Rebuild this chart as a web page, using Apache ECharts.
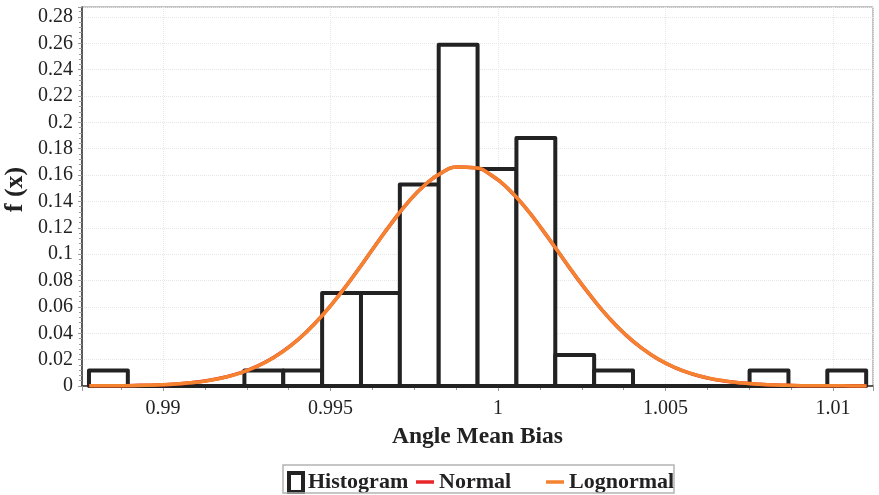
<!DOCTYPE html>
<html>
<head>
<meta charset="utf-8">
<script src="https://cdn.jsdelivr.net/npm/echarts@6/dist/echarts.min.js"></script>
<style>html,body{margin:0;padding:0;background:#fff}#c{width:879px;height:495px}</style>
</head>
<body>
<div id="c"></div>
<script>
// ---- data ----
var binEdges = [0.98779, 0.98895, 0.99011, 0.99127, 0.99243, 0.99359, 0.99475, 0.99591, 0.99707, 0.99823, 0.99939,
                1.00055, 1.00171, 1.00287, 1.00403, 1.00519, 1.00635, 1.00751, 1.00867, 1.00983, 1.01099];
var histValues = [0.0118, 0, 0, 0, 0.0118, 0.0118, 0.0706, 0.0706, 0.1529, 0.2588,
                  0.1647, 0.1882, 0.0235, 0.0118, 0, 0, 0, 0.0118, 0, 0.0118];
var curveX = [0.9878, 0.9883, 0.9888, 0.9893, 0.9898, 0.9903, 0.9908, 0.9913, 0.9918, 0.9923,
              0.9928, 0.9933, 0.9938, 0.9943, 0.9948, 0.9953, 0.9958, 0.9963, 0.9968, 0.9973,
              0.9978, 0.9983, 0.9988, 0.9993, 0.9998, 1.0003, 1.0008, 1.0013, 1.0018, 1.0023,
              1.0028, 1.0033, 1.0038, 1.0043, 1.0048, 1.0053, 1.0058, 1.0063, 1.0068, 1.0073,
              1.0078, 1.0083, 1.0088, 1.0093, 1.0098, 1.0103, 1.0108, 1.0110];
var normalY = [0.0001, 0.0001, 0.0002, 0.0005, 0.0008, 0.0014, 0.0024, 0.0040, 0.0064, 0.0099,
               0.0149, 0.0216, 0.0304, 0.0415, 0.0549, 0.0704, 0.0874, 0.1053, 0.1228, 0.1389,
               0.1521, 0.1615, 0.1661, 0.1656, 0.1599, 0.1497, 0.1358, 0.1194, 0.1017, 0.0839,
               0.0672, 0.0520, 0.0391, 0.0285, 0.0201, 0.0137, 0.0091, 0.0058, 0.0036, 0.0022,
               0.0013, 0.0007, 0.0004, 0.0002, 0.0001, 0.0001, 0.0000, 0.0000];
var lognormalY = [0.0001, 0.0001, 0.0002, 0.0004, 0.0008, 0.0014, 0.0024, 0.0039, 0.0063, 0.0098,
                  0.0148, 0.0215, 0.0303, 0.0414, 0.0548, 0.0703, 0.0873, 0.1052, 0.1228, 0.1389,
                  0.1521, 0.1615, 0.1661, 0.1656, 0.1600, 0.1498, 0.1359, 0.1195, 0.1018, 0.0840,
                  0.0673, 0.0521, 0.0392, 0.0286, 0.0202, 0.0138, 0.0092, 0.0059, 0.0037, 0.0022,
                  0.0013, 0.0007, 0.0004, 0.0002, 0.0001, 0.0001, 0.0000, 0.0000];
var legendNames = ['Histogram', 'Normal', 'Lognormal'];
var xAxisTitle = 'Angle Mean Bias';
var yAxisTitle = 'f (x)';

// ---- build ----
var FONT = '"Liberation Serif", "DejaVu Serif", serif';
var histData = histValues.map(function (v, i) { return [binEdges[i], binEdges[i + 1], v]; });
var normalData = curveX.map(function (x, i) { return [x, normalY[i]]; });
var lognormalData = curveX.map(function (x, i) { return [x, lognormalY[i]]; });

var legendText = { fontFamily: FONT, fontWeight: 'bold', fontSize: 22, color: '#222' };

var chart = echarts.init(document.getElementById('c'), null, { renderer: 'canvas' });
chart.setOption({
  animation: false,
  backgroundColor: '#fff',
  grid: { left: 82, right: 6, top: 7, bottom: 109, show: true, borderColor: '#888', borderWidth: 1,
          containLabel: false, outerBoundsMode: 'none' },
  legend: [
    { data: [{ name: legendNames[0], icon: 'rect', itemStyle: { color: '#fff', borderColor: '#222', borderWidth: 4 } }],
      left: 287, top: 471, itemWidth: 14, itemHeight: 19, itemGap: 0, textStyle: legendText, padding: 0 },
    { data: [{ name: legendNames[1], icon: 'rect' }],
      left: 416, top: 471, itemWidth: 18, itemHeight: 3.5, textStyle: legendText, padding: 0 },
    { data: [{ name: legendNames[2], icon: 'rect' }],
      left: 546, top: 471, itemWidth: 18, itemHeight: 3.5, textStyle: legendText, padding: 0 }
  ],
  graphic: [
    { type: 'rect', shape: { x: 283, y: 465, width: 391, height: 28 }, style: { fill: 'transparent', stroke: '#b4b4b4', lineWidth: 1.5 }, silent: true, z: 100 }
  ],
  xAxis: {
    type: 'value',
    min: 0.987582, max: 1.011194,
    splitNumber: 5,
    name: xAxisTitle, nameLocation: 'middle', nameGap: 39,
    nameTextStyle: { fontFamily: FONT, fontWeight: 'bold', fontSize: 23.5, color: '#222' },
    axisLine: { show: true, onZero: false, lineStyle: { color: '#333', width: 1.5 } },
    axisTick: { show: true, length: 5, lineStyle: { color: '#999' } },
    minorTick: { show: true, splitNumber: 4, length: 4, lineStyle: { color: '#999' } },
    axisLabel: { fontFamily: FONT, fontSize: 20, color: '#222', margin: 13, showMinLabel: false, showMaxLabel: false },
    splitLine: { show: true, lineStyle: { color: '#e6e6e6', type: 'dotted', width: 1 } }
  },
  yAxis: {
    type: 'value',
    min: 0, max: 0.2875, interval: 0.02,
    name: yAxisTitle, nameLocation: 'middle', nameGap: 54, nameRotate: 90, nameMoveOverlap: false,
    nameTextStyle: { fontFamily: FONT, fontWeight: 'bold', fontSize: 26, color: '#222', padding: [0, 0, 0, 14] },
    axisLine: { show: true, lineStyle: { color: '#333', width: 1.5 } },
    axisTick: { show: true, length: 4, lineStyle: { color: '#999' } },
    minorTick: { show: true, splitNumber: 5, length: 3, lineStyle: { color: '#999' } },
    axisLabel: { fontFamily: FONT, fontSize: 20, color: '#222', margin: 9, showMaxLabel: false },
    splitLine: { show: true, lineStyle: { color: '#e6e6e6', type: 'dotted', width: 1 } }
  },
  series: [
    {
      name: legendNames[0], type: 'custom',
      itemStyle: { color: '#fff', borderColor: '#222', borderWidth: 4 },
      renderItem: function (params, api) {
        var p0 = api.coord([api.value(0), api.value(2)]);
        var p1 = api.coord([api.value(1), 0]);
        return {
          type: 'rect',
          shape: { x: p0[0], y: p0[1], width: p1[0] - p0[0], height: p1[1] - p0[1] },
          style: { fill: '#fff', stroke: '#222', lineWidth: 4, lineJoin: 'round' }
        };
      },
      encode: { x: [0, 1], y: 2 },
      data: histData, z: 2
    },
    {
      name: legendNames[1], type: 'line', data: normalData, showSymbol: false, symbol: 'none',
      smooth: true, lineStyle: { color: '#e8262a', width: 3.5 }, itemStyle: { color: '#e8262a' }, z: 3
    },
    {
      name: legendNames[2], type: 'line', data: lognormalData, showSymbol: false, symbol: 'none',
      smooth: true, lineStyle: { color: '#f5822e', width: 3.5 }, itemStyle: { color: '#f5822e' }, z: 4
    }
  ]
});
</script>
</body>
</html>
